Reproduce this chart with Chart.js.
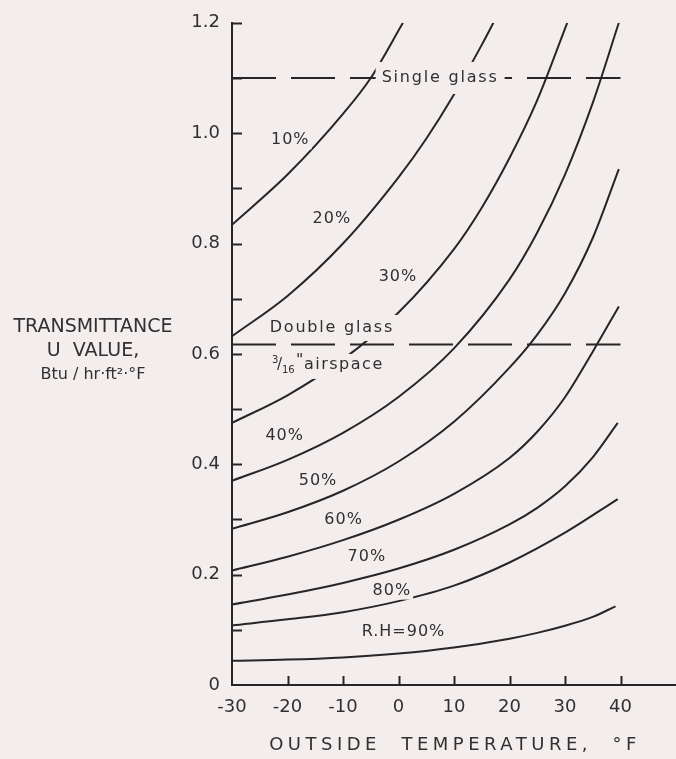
<!DOCTYPE html>
<html>
<head>
<meta charset="utf-8">
<script src="https://cdn.jsdelivr.net/npm/chart.js@4.4.1/dist/chart.umd.min.js"></script>
<style>
  html, body { margin: 0; padding: 0; background: #f3eeed; }
  #wrap { width: 676px; height: 759px; }
</style>
</head>
<body>
<div id="wrap"><canvas id="chart" width="676" height="759"></canvas></div>
<script>
// Window U value at which condensation begins, by outside temperature and indoor relative humidity
const rhLabels = ['10%', '20%', '30%', '40%', '50%', '60%', '70%', '80%', 'R.H=90%'];

const temp10 = [-30, -20, -10, -5, 0.8];
const uval10 = [0.834, 0.925, 1.035, 1.10, 1.20];

const temp20 = [-30, -20, -10, 0, 5, 10, 15, 17.1];
const uval20 = [0.632, 0.705, 0.80, 0.92, 0.99, 1.07, 1.16, 1.20];

const temp30 = [-30, -20, -10, 0, 10, 15, 20, 25, 30.4];
const uval30 = [0.475, 0.525, 0.59, 0.675, 0.79, 0.865, 0.955, 1.06, 1.20];

const temp40 = [-30, -20, -10, 0, 10, 20, 25, 30, 35, 39.7];
const uval40 = [0.37, 0.408, 0.457, 0.522, 0.61, 0.735, 0.82, 0.925, 1.055, 1.20];

const temp50 = [-30, -20, -10, 0, 10, 20, 25, 30, 35, 39.7];
const uval50 = [0.283, 0.313, 0.352, 0.405, 0.477, 0.575, 0.635, 0.71, 0.81, 0.935];

const temp60 = [-30, -20, -10, 0, 10, 20, 25, 30, 35, 39.7];
const uval60 = [0.2075, 0.2325, 0.2625, 0.2995, 0.3465, 0.4115, 0.459, 0.5215, 0.604, 0.686];

const temp70 = [-30, -20, -10, 0, 10, 20, 25, 30, 35, 39.5];
const uval70 = [0.146, 0.164, 0.185, 0.211, 0.245, 0.291, 0.321, 0.36, 0.4125, 0.475];

const temp80 = [-30, -20, -10, 0, 10, 20, 30, 39.5];
const uval80 = [0.108, 0.119, 0.132, 0.152, 0.18, 0.222, 0.276, 0.337];

const temp90 = [-30, -20, -10, 0, 10, 20, 25, 30, 35, 39.1];
const uval90 = [0.044, 0.046, 0.05, 0.057, 0.068, 0.084, 0.0945, 0.1075, 0.1235, 0.1424];

// Reference glazing U values
const singleGlassU = 1.10;
const doubleGlassU = 0.617;
const glassTempRange = [-30, 40];

// Axis ranges and ticks
const xMin = -30, xMax = 50, xStep = 10, xLastTick = 40;
const yMin = 0, yMax = 1.2, yStep = 0.1;

const curveTemps = [temp10, temp20, temp30, temp40, temp50, temp60, temp70, temp80, temp90];
const curveUvals = [uval10, uval20, uval30, uval40, uval50, uval60, uval70, uval80, uval90];

const ink = '#262626';
const textInk = '#303030';
const paper = '#f3eeed';
const fontFamily = '"DejaVu Sans", "Liberation Sans", sans-serif';

const datasets = curveTemps.map((temps, i) => ({
  label: rhLabels[i],
  data: temps.map((t, j) => ({ x: t, y: curveUvals[i][j] })),
  borderColor: ink,
  borderWidth: 2,
  pointRadius: 0,
  fill: false,
  cubicInterpolationMode: 'monotone'
}));

[singleGlassU, doubleGlassU].forEach((u, i) => {
  datasets.push({
    label: i === 0 ? 'Single glass' : 'Double glass',
    data: glassTempRange.map(t => ({ x: t, y: u })),
    borderColor: ink,
    borderWidth: 2,
    borderDash: [44, 15],
    pointRadius: 0,
    fill: false
  });
});

// Curve and reference-line captions, placed in data coordinates
const captions = [
  { text: '10%', x: -19.5, y: 0.987 },
  { text: '20%', x: -12.0, y: 0.845 },
  { text: '30%', x: -0.1, y: 0.74 },
  { text: '40%', x: -20.5, y: 0.451 },
  { text: '50%', x: -14.5, y: 0.37 },
  { text: '60%', x: -9.9, y: 0.299 },
  { text: '70%', x: -5.7, y: 0.233 },
  { text: '80%', x: -1.2, y: 0.171 },
  { text: rhLabels[8], x: 0.9, y: 0.096 },
  { text: 'Single glass', x: 7.5, y: singleGlassU, padX: 6, padY: 9 },
  { text: 'Double glass', x: -12.0, y: 0.647, padX: 5, padY: 6 }
];

const annotate = {
  id: 'annotate',
  beforeDraw(chart) {
    const ctx = chart.ctx;
    ctx.save();
    ctx.fillStyle = paper;
    ctx.fillRect(0, 0, chart.width, chart.height);
    ctx.restore();
  },
  afterDatasetsDraw(chart) {
    const ctx = chart.ctx;
    const xs = chart.scales.x, ys = chart.scales.y;
    const area = chart.chartArea;
    ctx.save();

    // inward tick marks
    ctx.strokeStyle = ink;
    ctx.lineWidth = 2;
    ctx.beginPath();
    ys.ticks.forEach(t => {
      if (t.value <= yMin + 1e-9) return;
      const py = Math.round(ys.getPixelForValue(t.value)) + 0.5;
      ctx.moveTo(area.left, py);
      ctx.lineTo(area.left + 10, py);
    });
    xs.ticks.forEach(t => {
      if (t.value <= xMin) return;
      const px = Math.round(xs.getPixelForValue(t.value)) + 0.5;
      ctx.moveTo(px, area.bottom);
      ctx.lineTo(px, area.bottom - 9);
    });
    ctx.stroke();

    // captions with a paper-coloured knockout behind them
    ctx.font = '16px ' + fontFamily;
    ctx.textAlign = 'center';
    ctx.textBaseline = 'middle';
    captions.forEach(c => {
      ctx.letterSpacing = c.padX ? '1.8px' : '1px';
      const px = xs.getPixelForValue(c.x);
      const py = ys.getPixelForValue(c.y);
      const w = ctx.measureText(c.text).width;
      const padX = c.padX || 2, padY = c.padY || 2;
      ctx.fillStyle = paper;
      ctx.fillRect(px - w / 2 - padX, py - 9 - padY + 2, w + 2 * padX, 18 + 2 * padY - 4);
      ctx.fillStyle = textInk;
      ctx.fillText(c.text, px, py);
    });

    // 3/16" airspace caption
    const ax = xs.getPixelForValue(-22.8);
    const ay = ys.getPixelForValue(0.58);
    ctx.fillStyle = paper;
    ctx.fillRect(ax - 6, ay - 11, 124, 25);
    ctx.fillStyle = textInk;
    ctx.textAlign = 'left';
    ctx.letterSpacing = '0px';
    ctx.font = '10px ' + fontFamily;
    ctx.fillText('3', ax, ay - 5);
    ctx.font = '15px ' + fontFamily;
    ctx.fillText('/', ax + 5, ay);
    ctx.font = '10px ' + fontFamily;
    ctx.fillText('16', ax + 10, ay + 5);
    ctx.font = '16px ' + fontFamily;
    ctx.letterSpacing = '1.5px';
    ctx.fillText('"', ax + 24, ay - 4);
    ctx.fillText('airspace', ax + 32, ay);

    // axis titles
    ctx.textAlign = 'center';
    ctx.font = '19px ' + fontFamily;
    ctx.letterSpacing = '0px';
    const yTitleX = 93;
    ctx.fillText('TRANSMITTANCE', yTitleX, 327);
    ctx.fillText('U  VALUE,', yTitleX, 351);
    ctx.font = '16px ' + fontFamily;
    ctx.fillText('Btu / hr·ft²·°F', yTitleX, 375);
    ctx.font = '18px ' + fontFamily;
    ctx.letterSpacing = '4.5px';
    ctx.fillText('OUTSIDE  TEMPERATURE,  °F', 455, 745);
    ctx.restore();
  }
};

new Chart(document.getElementById('chart'), {
  type: 'line',
  data: { datasets },
  plugins: [annotate],
  options: {
    responsive: false,
    animation: false,
    devicePixelRatio: 1,
    layout: { padding: { top: 20, right: 0, bottom: 0, left: 0 } },
    plugins: { legend: { display: false }, tooltip: { enabled: false } },
    scales: {
      x: {
        type: 'linear',
        min: xMin,
        max: xMax,
        grid: { display: false, drawTicks: false },
        border: { display: true, color: ink, width: 2 },
        ticks: {
          stepSize: xStep,
          padding: 12,
          color: textInk,
          font: { family: fontFamily, size: 18 },
          maxRotation: 0,
          autoSkip: false
        },
        afterBuildTicks: s => { s.ticks = s.ticks.filter(t => t.value <= xLastTick); },
        afterFit: s => { s.height = 74; }
      },
      y: {
        type: 'linear',
        min: yMin,
        max: yMax,
        grid: { display: false, drawTicks: false },
        border: { display: true, color: ink, width: 2 },
        ticks: {
          stepSize: yStep,
          padding: 12,
          color: textInk,
          font: { family: fontFamily, size: 18 },
          autoSkip: false,
          callback: v => {
            const r = Math.round(v * 10);
            if (r % 2) return '';
            return r === 0 ? '0' : (r / 10).toFixed(1);
          }
        },
        afterFit: s => { s.width = 232; }
      }
    }
  }
});
</script>
</body>
</html>
